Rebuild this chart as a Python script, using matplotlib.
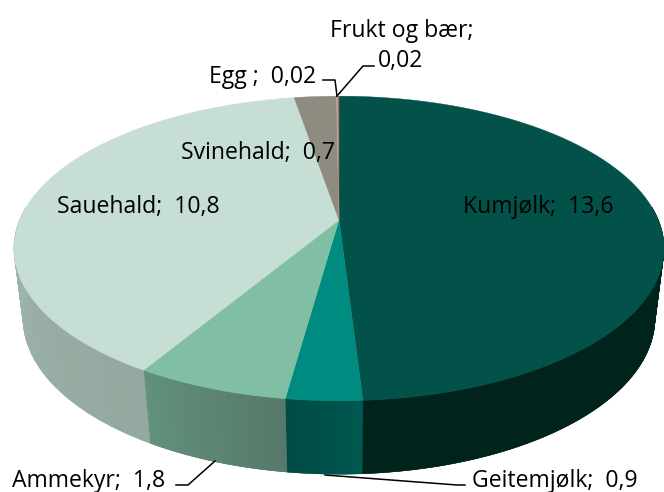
import matplotlib
matplotlib.use("Agg")
import matplotlib.pyplot as plt
from matplotlib.collections import PolyCollection
import numpy as np

# values as far as they can be read, shown labels are rounded
categories = ["Kumjølk", "Geitemjølk", "Ammekyr", "Sauehald", "Svinehald", "Egg", "Frukt og bær"]
values = [13.64, 0.88, 1.78, 10.78, 0.70, 0.02, 0.02]
top_colors = ["#02524a", "#008b80", "#80bfa3", "#c6ded4", "#8e8c80", "#bdb3a6", "#b0705c"]
side_from = ["#00241d", "#005850", "#56786a", "#93a89e", "#6a695f", "#8a8377", "#80503f"]
side_to = ["#00231c", "#004a42", "#62937b", "#b0c9be", "#6a695f", "#8a8377", "#80503f"]

plt.rcParams["font.family"] = ["Open Sans", "DejaVu Sans"]

# perspective circle: centre, half axes, perspective factor
TOP = dict(cx=339, y0=220, a=319.3, b=147, p=0.187)
BOTTOM = dict(cx=339, y0=290, a=310.8, b=151, p=0.18)


def rim(theta_deg, c):
    t = np.radians(theta_deg)
    u = np.sin(t)
    v = np.cos(t)
    w = 1 + c["p"] * v
    return c["cx"] + c["a"] * u / w, c["y0"] - c["b"] * v / w


def mix(c1, c2, f):
    a = np.array(matplotlib.colors.to_rgb(c1))
    b = np.array(matplotlib.colors.to_rgb(c2))
    return a + (b - a) * f


fig = plt.figure(figsize=(6.64, 4.92), dpi=100)
ax = fig.add_axes([0, 0, 1, 1])
ax.set_xlim(0, 664)
ax.set_ylim(492, 0)
ax.axis("off")

total = sum(values)
edges = np.concatenate(([0], np.cumsum(values))) / total * 360

# side wall, only the front half is visible
for i in range(len(values)):
    lo = max(edges[i], 85)
    hi = min(edges[i + 1], 275)
    if hi <= lo:
        continue
    th = np.linspace(lo, hi, 200)
    x1, y1 = rim(th, TOP)
    x2, y2 = rim(th[::-1], BOTTOM)
    base = mix(side_from[i], side_to[i], 0.5)
    ax.fill(np.r_[x1, x2], np.r_[y1, y2], color=base, lw=0.4, zorder=1)

    # gradient strips on top of the flat wall
    steps = max(int((hi - lo) / 0.8), 1)
    th = np.linspace(lo, hi, steps + 1)
    polys = []
    cols = []
    for k in range(steps):
        th2 = np.linspace(th[k], th[k + 1], 4)
        xa, ya = rim(th2, TOP)
        xb, yb = rim(th2[::-1], BOTTOM)
        polys.append(np.c_[np.r_[xa, xb], np.r_[ya, yb]])
        f = (th[k] - edges[i]) / (edges[i + 1] - edges[i])
        cols.append(mix(side_from[i], side_to[i], f))
    ax.add_collection(PolyCollection(polys, facecolors=cols, edgecolors=cols, linewidths=0.2, zorder=2))

# top face
for i in range(len(values)):
    th = np.linspace(edges[i], edges[i + 1], max(int(edges[i + 1] - edges[i]) * 2, 2))
    xs, ys = rim(th, TOP)
    ax.fill(np.r_[TOP["cx"], xs], np.r_[TOP["y0"], ys], color=top_colors[i], lw=0.3, zorder=3)

# leader lines
leaders = [
    ([323, 335, 337], [80, 80, 96]),
    ([374, 363, 337], [66, 66, 96]),
    ([176, 188, 215], [485, 485, 461]),
    ([325, 457, 465], [475, 485, 485]),
]
for lx, ly in leaders:
    ax.plot(lx, ly, color="black", lw=1.1, zorder=4)

fs = 16.6
ax.text(330, 31, "Frukt og bær;", fontsize=fs, va="center", zorder=5)
ax.text(378, 61, "0,02", fontsize=fs, va="center", zorder=5)
ax.text(209, 77, "Egg ;  0,02", fontsize=fs, va="center", zorder=5)
ax.text(181, 153, "Svinehald;  0,7", fontsize=fs, va="center", zorder=5)
ax.text(57, 207, "Sauehald;  10,8", fontsize=fs, va="center", zorder=5)
ax.text(463, 207, "Kumjølk;  13,6", fontsize=fs, va="center", zorder=5)
ax.text(12, 481, "Ammekyr;  1,8", fontsize=fs, va="center", zorder=5)
ax.text(472, 481, "Geitemjølk;  0,9", fontsize=fs, va="center", zorder=5)

fig.savefig("out.png", dpi=100)
